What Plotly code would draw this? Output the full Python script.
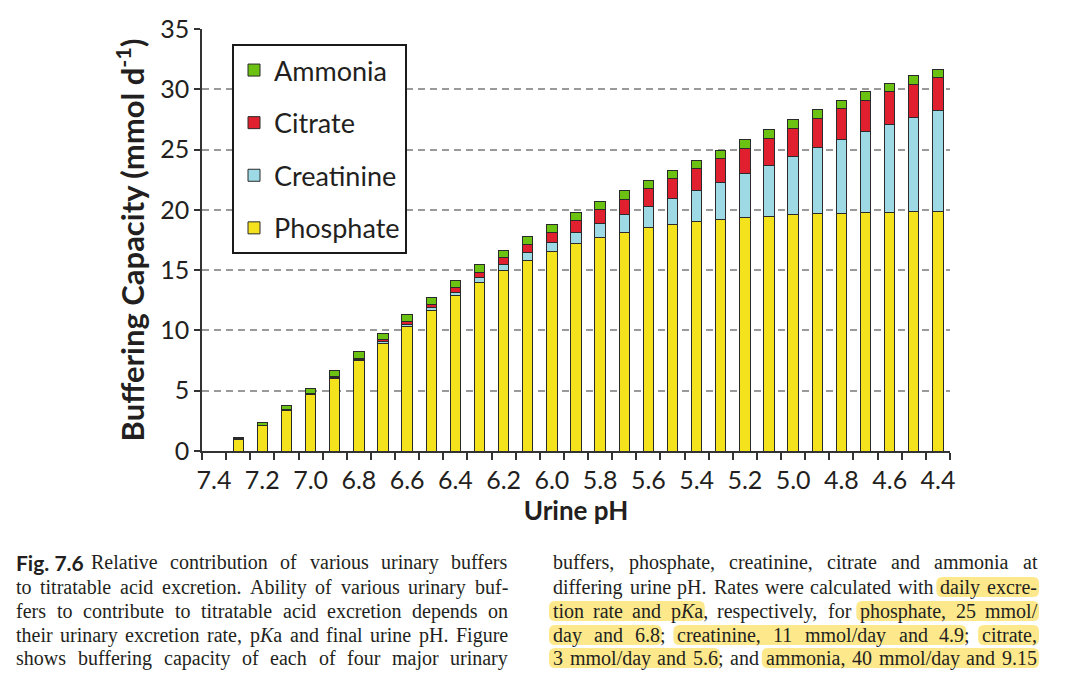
import plotly.graph_objects as go

# ---------------- data ----------------
ph_labels = ["7.4", "7.3", "7.2", "7.1", "7.0", "6.9", "6.8", "6.7", "6.6", "6.5", "6.4",
             "6.3", "6.2", "6.1", "6.0", "5.9", "5.8", "5.7", "5.6", "5.5", "5.4",
             "5.3", "5.2", "5.1", "5.0", "4.9", "4.8", "4.7", "4.6", "4.5", "4.4"]
tick_text = ["7.4", "", "7.2", "", "7.0", "", "6.8", "", "6.6", "", "6.4",
             "", "6.2", "", "6.0", "", "5.8", "", "5.6", "", "5.4",
             "", "5.2", "", "5.0", "", "4.8", "", "4.6", "", "4.4"]
phosphate = [0.00, 0.99, 2.10, 3.33, 4.65, 6.05, 7.48, 8.91, 10.31, 11.63, 12.86,
             13.97, 14.96, 15.82, 16.56, 17.19, 17.71, 18.14, 18.50, 18.79, 19.02,
             19.21, 19.37, 19.49, 19.59, 19.67, 19.73, 19.78, 19.82, 19.86, 19.88]
creatinine = [0.00, 0.01, 0.02, 0.03, 0.05, 0.07, 0.10, 0.14, 0.18, 0.24, 0.30,
              0.39, 0.49, 0.62, 0.77, 0.97, 1.20, 1.47, 1.80, 2.17, 2.61,
              3.10, 3.64, 4.22, 4.83, 5.47, 6.10, 6.71, 7.29, 7.83, 8.32]
citrate = [0.00, 0.01, 0.03, 0.05, 0.07, 0.10, 0.13, 0.17, 0.23, 0.29, 0.36,
           0.45, 0.56, 0.67, 0.81, 0.95, 1.11, 1.28, 1.45, 1.63, 1.79,
           1.95, 2.10, 2.23, 2.35, 2.45, 2.54, 2.62, 2.68, 2.73, 2.78]
ammonia = [0.00, 0.14, 0.25, 0.35, 0.42, 0.48, 0.52, 0.56, 0.59, 0.61, 0.63,
           0.64, 0.65, 0.66, 0.67, 0.68, 0.68, 0.69, 0.69, 0.69, 0.69,
           0.69, 0.69, 0.70, 0.70, 0.70, 0.70, 0.70, 0.70, 0.70, 0.70]
y_ticks = [0, 5, 10, 15, 20, 25, 30, 35]

series = [("Phosphate", phosphate, "#F4E21C", 4),
          ("Creatinine", creatinine, "#9DDAE6", 3),
          ("Citrate", citrate, "#E0202E", 2),
          ("Ammonia", ammonia, "#6CC212", 1)]

caption_fig = "Fig. 7.6"
left_lines = [
    "Relative contribution of various urinary buffers",
    "to titratable acid excretion. Ability of various urinary buf-",
    "fers to contribute to titratable acid excretion depends on",
    "their urinary excretion rate, p<i>K</i>a and final urine pH. Figure",
    "shows buffering capacity of each of four major urinary",
]
right_lines = [
    "buffers, phosphate, creatinine, citrate and ammonia at",
    "differing urine pH. Rates were calculated with [daily excre-]",
    "[tion rate and p<i>K</i>a], respectively, for [phosphate, 25 mmol/]",
    "[day and 6.8]; [creatinine, 11 mmol/day and 4.9]; [citrate,]",
    "[3 mmol/day and 5.6]; and [ammonia, 40 mmol/day and 9.15]",
]

# ---------------- layout geometry ----------------
OFF = 8                      # page body margin
W, H = 1060, 676
ML, MT = 194, 21
PW, PH = 748, 422
MR, MB = W - ML - PW, H - MT - PH


def X(px):
    return (px - OFF - ML) / PW


def Y(py):
    return (H - MB - (py - OFF)) / PH


fig = go.Figure()
for name, vals, col, rank in series:
    fig.add_trace(go.Bar(
        x=ph_labels, y=vals, name=name, legendgroup=name, legendrank=rank,
        marker=dict(color=col, line=dict(color="#2a2a2a", width=1)),
    ))

fig.update_layout(
    width=W, height=H,
    margin=dict(l=ML, r=MR, t=MT, b=MB, autoexpand=False),
    barmode="stack", bargap=0.57,
    plot_bgcolor="white", paper_bgcolor="white",
    font=dict(family="Lato", color="#231f20"),
    legend=dict(
        x=X(232), y=Y(44), xanchor="left", yanchor="top",
        bordercolor="#1a1a1a", borderwidth=2, bgcolor="white",
        font=dict(size=27, family="Lato"),
        traceorder="grouped", tracegroupgap=14.5,
    ),
    showlegend=True,
)
fig.update_xaxes(
    type="category", tickmode="array", tickvals=ph_labels, ticktext=tick_text,
    tickson="boundaries", ticks="outside", ticklen=7, tickwidth=1.5, tickcolor="#333",
    tickangle=0, ticklabelstandoff=6,
    showline=True, linecolor="#333", linewidth=1.5, showgrid=False,
    tickfont=dict(size=25, family="Lato"),
    title=dict(text="<b>Urine pH</b>", font=dict(size=26, family="Lato"), standoff=0),
)
fig.update_yaxes(
    range=[0, 35], tickmode="array", tickvals=y_ticks, ticks="outside", ticklen=6,
    tickwidth=1.5, tickcolor="#333",
    showline=True, linecolor="#333", linewidth=1.5, zeroline=False,
    showgrid=True, gridcolor="#9a9a9a", gridwidth=1.5, griddash="7px,5px",
    tickfont=dict(size=25, family="Lato"),
    title=dict(text="<b>Buffering Capacity (mmol d<sup>-1</sup>)</b>",
               font=dict(size=31, family="Lato"), standoff=6),
)

# ---------------- caption (justified, Times metrics) ----------------
TW = {' ': 250, '.': 250, ',': 250, ';': 278, ':': 278, '/': 278, '-': 333, '(': 333, ')': 333}
for c, w in zip("abcdefghijklmnopqrstuvwxyz",
                [444, 500, 444, 500, 444, 333, 500, 500, 278, 278, 500, 278, 778,
                 500, 500, 500, 500, 333, 389, 278, 500, 500, 722, 500, 500, 444]):
    TW[c] = w
for c, w in zip("ABCDEFGHIJKLMNOPQRSTUVWXYZ",
                [722, 667, 667, 722, 611, 556, 722, 722, 333, 389, 667, 611, 889,
                 722, 722, 556, 722, 667, 556, 611, 722, 722, 944, 722, 722, 611]):
    TW[c] = w
for c in "0123456789":
    TW[c] = 500

FS = 20
HL = "#FDE98C"


def plain(s):
    return s.replace("<i>", "").replace("</i>", "")


def text_w(s):
    return sum(TW.get(c, 500) for c in plain(s)) * FS / 1000.0


def layout_line(line, left, right, ycen):
    words = line.split(" ")
    clean = [w.replace("[", "").replace("]", "") for w in words]
    widths = [text_w(c) for c in clean]
    gap = (right - left - sum(widths)) / (len(words) - 1)
    x = left
    hl_start = None
    spans = []
    for w, c, wd in zip(words, clean, widths):
        fig.add_annotation(x=X(x), y=Y(ycen), xref="paper", yref="paper", text=c,
                           showarrow=False, xanchor="left", yanchor="middle",
                           borderpad=0, font=dict(family="Liberation Serif", size=FS, color="#231f20"))
        cx = x
        i = 0
        while i < len(w):
            ch = w[i]
            if ch == "[":
                hl_start = cx
                i += 1
                continue
            if ch == "]":
                spans.append((hl_start, cx))
                hl_start = None
                i += 1
                continue
            if w.startswith("<i>", i):
                i += 3
                continue
            if w.startswith("</i>", i):
                i += 4
                continue
            cx += TW.get(ch, 500) * FS / 1000.0
            i += 1
        x += wd + gap
    for a, b in spans:
        x0, x1 = a - 3, b + 3
        y0, y1 = ycen + 10, ycen - 10
        rx, ry = 6 / PW, 6 / PH
        X0, X1, Y0, Y1 = X(x0), X(x1), Y(y0), Y(y1)
        path = (f"M{X0+rx},{Y0} L{X1-rx},{Y0} Q{X1},{Y0} {X1},{Y0+ry} L{X1},{Y1-ry} "
                f"Q{X1},{Y1} {X1-rx},{Y1} L{X0+rx},{Y1} Q{X0},{Y1} {X0},{Y1-ry} "
                f"L{X0},{Y0+ry} Q{X0},{Y0} {X0+rx},{Y0} Z")
        fig.add_shape(type="path", path=path, xref="paper", yref="paper",
                      fillcolor=HL, line=dict(width=0), layer="above")


line_y = [562, 587, 611, 635, 658]
fig.add_annotation(x=X(15), y=Y(line_y[0]), xref="paper", yref="paper",
                   text="<b>" + caption_fig + "</b>", showarrow=False,
                   xanchor="left", yanchor="middle", borderpad=0,
                   font=dict(family="Lato", size=21, color="#231f20"))
layout_line(left_lines[0], 90, 507, line_y[0])
for ln, yy in zip(left_lines[1:], line_y[1:]):
    layout_line(ln, 15, 507, yy)
for ln, yy in zip(right_lines, line_y):
    layout_line(ln, 552, 1036, yy)

fig.write_html("out.html")
